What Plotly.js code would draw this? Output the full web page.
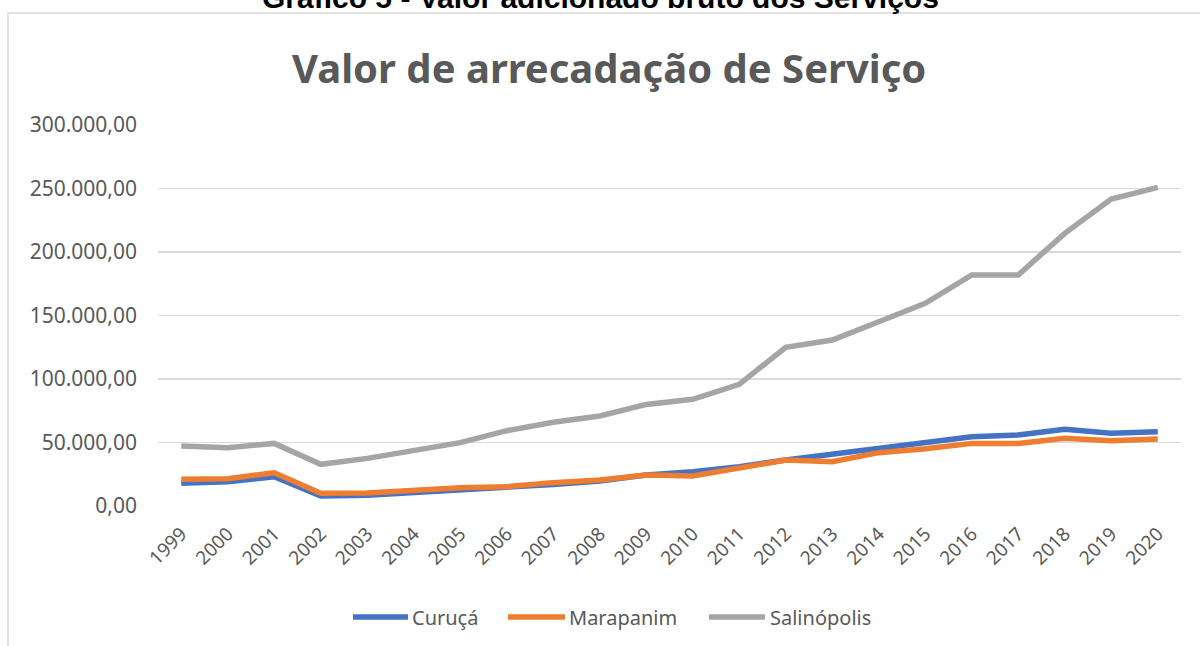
<!DOCTYPE html>
<html>
<head>
<meta charset="utf-8">
<script src="https://cdn.plot.ly/plotly-3.0.1.min.js"></script>
<style>
  html, body { margin: 0; padding: 0; background: #ffffff; }
  #chart { width: 1200px; height: 646px; }
</style>
</head>
<body>
<div id="chart"></div>
<script>
const years = ["1999","2000","2001","2002","2003","2004","2005","2006","2007","2008","2009","2010","2011","2012","2013","2014","2015","2016","2017","2018","2019","2020"];
const curuca = [17900, 19100, 23000, 7900, 8500, 10500, 12000, 14400, 17000, 19700, 24400, 27000, 31000, 36200, 40900, 45000, 49300, 54600, 55900, 60400, 57200, 58500];
const marapanim = [21000, 21500, 26200, 10000, 10300, 12600, 14400, 15200, 18400, 20500, 24400, 23600, 29700, 36200, 34900, 42000, 45000, 49300, 49300, 53300, 51400, 52700];
const salinopolis = [47200, 45900, 49300, 32800, 37500, 43800, 49900, 59300, 66000, 70900, 80000, 84000, 95800, 125000, 130700, 145100, 159600, 181900, 181900, 214700, 241700, 250900];
const seriesNames = ["Curuçá", "Marapanim", "Salinópolis"];
const seriesColors = ["#4472C4", "#ED7D31", "#A5A5A5"];
const chartTitle = "Valor de arrecadação de Serviço";
const figureTitle = "Gráfico 5 - Valor adicionado bruto dos Serviços";

const textColor = "#595959";
const font = "Noto Sans, Open Sans, sans-serif";

// plot area in pixels
const L = 158, R = 1181, T = 125, B = 506;
const W = R - L, H = B - T;
const px = x => (x - L) / W;
const py = y => (B - y) / H;

const seriesData = [curuca, marapanim, salinopolis];
const traces = seriesData.map((vals, i) => ({
  type: "scatter",
  mode: "lines",
  x: years,
  y: vals,
  name: seriesNames[i],
  line: { color: seriesColors[i], width: 5.5, shape: "linear" },
  hoverinfo: "x+y+name"
}));

// custom legend (swatch start, swatch end, text start) in pixels
const legendY = 617;
const legendPos = [[353, 408, 411], [508, 565, 568], [709, 765, 769]];
const legendShapes = legendPos.map((p, i) => ({
  type: "line",
  xref: "paper", yref: "paper",
  x0: px(p[0]), x1: px(p[1]),
  y0: py(legendY), y1: py(legendY),
  line: { color: seriesColors[i], width: 5.5 }
}));
const legendTexts = legendPos.map((p, i) => ({
  text: seriesNames[i],
  xref: "paper", yref: "paper",
  x: px(p[2] - 1), y: py(legendY),
  xanchor: "left", yanchor: "middle",
  showarrow: false,
  font: { family: font, size: 20, color: textColor }
}));

const layout = {
  width: 1200,
  height: 646,
  margin: { l: L, r: 1200 - R, t: T, b: 646 - B, pad: 0, autoexpand: false },
  paper_bgcolor: "#ffffff",
  plot_bgcolor: "#ffffff",
  separators: ",.",
  font: { family: font, color: textColor },
  showlegend: false,
  xaxis: {
    type: "category",
    range: [-0.5, years.length - 0.5],
    automargin: false,
    showgrid: false,
    zeroline: false,
    showline: false,
    ticks: "",
    tickangle: -45,
    ticklabelstandoff: 12,
    tickfont: { family: font, size: 19, color: textColor },
    fixedrange: true
  },
  yaxis: {
    range: [0, 300000],
    dtick: 50000,
    tick0: 0,
    tickformat: ",.2f",
    automargin: false,
    showgrid: true,
    gridcolor: "#D9D9D9",
    gridwidth: 1.3,
    zeroline: false,
    showline: false,
    ticks: "",
    ticklabelstandoff: 20,
    tickfont: { family: font, size: 21, color: textColor },
    fixedrange: true
  },
  annotations: [
    {
      text: "<b>" + chartTitle + "</b>",
      xref: "paper", yref: "paper",
      x: px(609), y: py(67),
      xanchor: "center", yanchor: "middle",
      showarrow: false,
      font: { family: font, size: 40, color: textColor }
    },
    {
      text: "<b>" + figureTitle + "</b>",
      xref: "paper", yref: "paper",
      x: px(600), y: py(-3),
      xanchor: "center", yanchor: "middle",
      showarrow: false,
      font: { family: "Liberation Sans, Arial, sans-serif", size: 30, color: "#000000" }
    }
  ].concat(legendTexts),
  shapes: [
    {
      type: "rect",
      xref: "paper", yref: "paper",
      x0: px(8), x1: px(1210),
      y0: py(700), y1: py(13),
      line: { color: "#D9D9D9", width: 1.5 },
      fillcolor: "rgba(0,0,0,0)",
      layer: "below"
    }
  ].concat(legendShapes)
};

Plotly.newPlot("chart", traces, layout, { displayModeBar: false, staticPlot: true });
</script>
</body>
</html>
